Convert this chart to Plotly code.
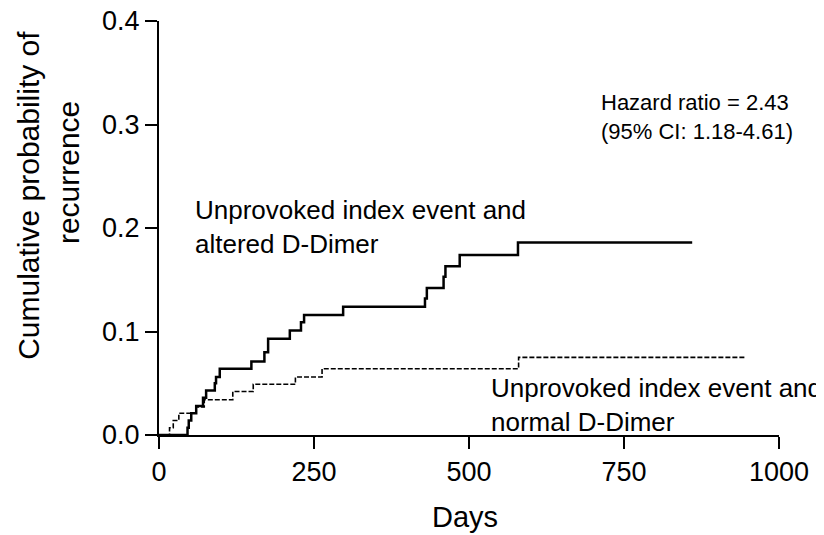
import plotly.graph_objects as go

# Kaplan-Meier style cumulative probability of recurrence
days_altered = [0, 46, 48, 52, 60, 71, 76, 90, 92, 98, 149, 170, 176, 211, 229, 234,
                297, 429, 432, 459, 462, 485, 579, 860]
prob_altered = [0, 0.007, 0.014, 0.021, 0.028, 0.036, 0.043, 0.050, 0.056, 0.064,
                0.071, 0.080, 0.093, 0.101, 0.109, 0.116, 0.124, 0.132, 0.142,
                0.153, 0.163, 0.174, 0.186, 0.186]

days_normal = [0, 17, 23, 32, 60, 73, 119, 152, 220, 263, 580, 945]
prob_normal = [0, 0.007, 0.014, 0.021, 0.027, 0.034, 0.042, 0.049, 0.056, 0.064,
               0.075, 0.075]

x_ticks = [0, 250, 500, 750, 1000]
y_ticks = [0.0, 0.1, 0.2, 0.3, 0.4]

FONT = "Liberation Sans, Arial, Helvetica, sans-serif"

fig = go.Figure()
fig.add_trace(go.Scatter(x=days_altered, y=prob_altered, mode="lines",
                         line=dict(color="black", width=2.5, shape="hv"),
                         cliponaxis=False, showlegend=False))
fig.add_trace(go.Scatter(x=days_normal, y=prob_normal, mode="lines",
                         line=dict(color="black", width=1.6, shape="hv", dash="5px,2px"),
                         cliponaxis=False, showlegend=False))

axis_common = dict(showline=True, linecolor="black", linewidth=2, ticks="outside",
                   ticklen=12, tickwidth=2, tickcolor="black", showgrid=False,
                   zeroline=False, automargin=False, ticklabeloverflow="allow",
                   tickfont=dict(family=FONT, size=27, color="black"))

fig.update_xaxes(range=[0, 1000], tickvals=x_ticks, **axis_common)
fig.update_yaxes(range=[0, 0.4], tickvals=y_ticks, tickformat=".1f", **axis_common)

title_font = dict(family=FONT, size=30, color="black")
fig.add_annotation(text="Cumulative probability of", textangle=-90,
                   xref="paper", yref="paper", x=-0.2097, y=0.58,
                   xanchor="center", yanchor="middle", showarrow=False, font=title_font)
fig.add_annotation(text="recurrence", textangle=-90,
                   xref="paper", yref="paper", x=-0.1468, y=0.635,
                   xanchor="center", yanchor="middle", showarrow=False, font=title_font)
fig.add_annotation(text="Days", xref="paper", yref="paper", x=0.4935, y=-0.198,
                   xanchor="center", yanchor="middle", showarrow=False,
                   font=dict(family=FONT, size=29, color="black"))
fig.add_annotation(text="Unprovoked index event and<br>altered D-Dimer",
                   xref="x", yref="y", x=55, y=0.2014, xanchor="left", yanchor="middle",
                   align="left", showarrow=False,
                   font=dict(family=FONT, size=26, color="black"))
fig.add_annotation(text="Unprovoked index event and<br>normal D-Dimer",
                   xref="x", yref="y", x=533, y=0.029, xanchor="left", yanchor="middle",
                   align="left", showarrow=False,
                   font=dict(family=FONT, size=26, color="black"))
fig.add_annotation(text="Hazard ratio = 2.43<br>(95% CI: 1.18-4.61)",
                   xref="x", yref="y", x=709, y=0.3068, xanchor="left", yanchor="middle",
                   align="left", showarrow=False,
                   font=dict(family=FONT, size=22, color="black"))

# page body adds an 8px offset, so the figure is sized to fit the 824x535 window
fig.update_layout(width=816, height=527, margin=dict(l=151, r=45, t=13, b=100),
                  paper_bgcolor="white", plot_bgcolor="white",
                  font=dict(family=FONT, color="black"))

fig.write_html("out.html")
